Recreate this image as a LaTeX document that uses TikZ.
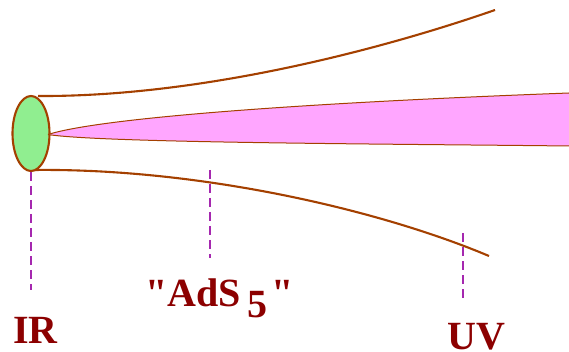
\documentclass[tikz,border=0pt]{standalone}
\usepackage{fontspec}
\setmainfont{Liberation Serif}
\usetikzlibrary{shapes.geometric}
\definecolor{brn}{RGB}{164,64,0}
\definecolor{grn}{RGB}{144,238,144}
\definecolor{pnk}{RGB}{255,166,255}
\definecolor{txt}{RGB}{140,0,0}
\definecolor{dsh}{RGB}{165,40,175}
\newcommand{\sq}{\XeTeXglyph\XeTeXcharglyph"22\relax}
\tikzset{
  edge/.style={draw=brn, line width=2.1pt},
  guide/.style={draw=dsh, line width=1.1pt, dash pattern=on 9pt off 5pt},
  lbl/.style={text=txt, font=\fontsize{40}{44}\selectfont\bfseries, inner sep=0pt, anchor=base west, text depth=0pt}
}
\begin{document}
\begin{tikzpicture}[x=1pt,y=-1pt]
\useasboundingbox (0,0) rectangle (569,352);
% guides
\coordinate (g1a) at (31,172); \coordinate (g1b) at (31,290);
\coordinate (g2a) at (210,170); \coordinate (g2b) at (210,258);
\coordinate (g3a) at (463,233); \coordinate (g3b) at (463,300);
\draw[guide] (g1a) -- (g1b);
\draw[guide] (g2a) -- (g2b);
\draw[guide] (g3a) -- (g3b);
% throat
\coordinate (u0) at (38,96); \coordinate (u1) at (495,10);
\coordinate (l0) at (33,170); \coordinate (l1) at (489,256);
\draw[edge] (u0) .. controls (200,97) and (380,50) .. (u1);
\draw[edge] (l0) .. controls (200,168) and (380,210) .. (l1);
% IR disc
\node[draw=brn, line width=2.1pt, fill=grn, ellipse, minimum width=37pt, minimum height=75pt, inner sep=0pt] (ir) at (31,133.5) {};
% brane
\coordinate (tip) at (48,134.5);
\coordinate (bt) at (569,93); \coordinate (bb) at (569,146);
\fill[pnk] (tip) .. controls (100,118) and (300,103) .. (bt) -- (bb) .. controls (400,144) and (100,143) .. (tip) -- cycle;
\draw[brn, line width=1pt] (tip) .. controls (100,118) and (300,103) .. (bt);
\draw[brn, line width=1pt] (bb) .. controls (400,144) and (100,143) .. (tip);
% labels
\node[lbl] (irl) at (13,343) {IR};
\node[lbl] (ads) at (145,306) {\sq AdS\hspace{7pt}\raisebox{-11pt}{5}\hspace{4pt}\sq};
\node[lbl] (uvl) at (447,349) {UV};
\end{tikzpicture}
\end{document}
